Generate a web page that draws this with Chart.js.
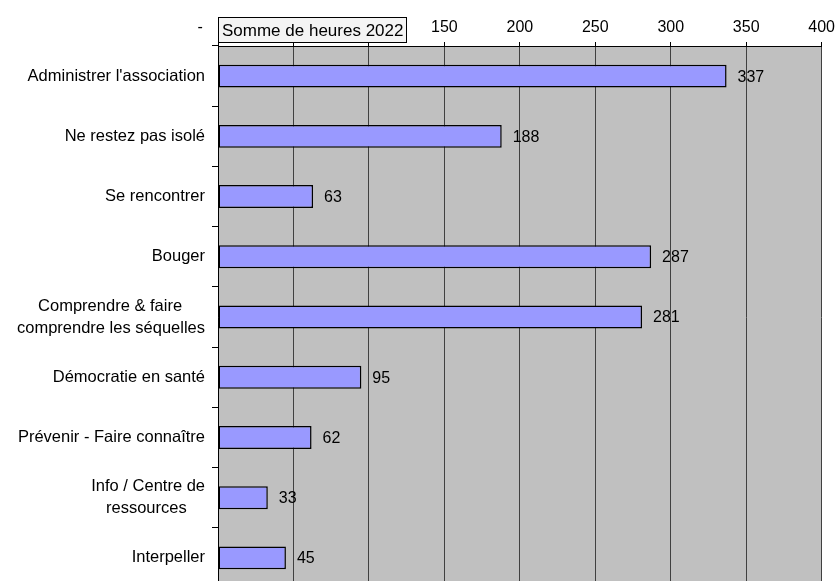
<!DOCTYPE html>
<html><head><meta charset="utf-8">
<script src="https://cdn.jsdelivr.net/npm/chart.js@4"></script>
<style>html,body{margin:0;padding:0;overflow:hidden;background:#fff}#wrap{width:840px;height:581px;overflow:hidden}</style>
</head><body><div id="wrap"><canvas id="c" width="840" height="606"></canvas></div>
<script>
const categories = ["Administrer l'association", "Ne restez pas isolé", "Se rencontrer", "Bouger", ["Comprendre & faire", "comprendre les séquelles"], "Démocratie en santé", "Prévenir - Faire connaître", ["Info / Centre de", "ressources"], "Interpeller"];
const heures2022 = [337, 188, 63, 287, 281, 95, 62, 33, 45];
const seriesName = "Somme de heures 2022";
const xTicks = [0, 50, 100, 150, 200, 250, 300, 350, 400];

const FONT = "'Liberation Sans', Arial, sans-serif";
const Y_FONT_SIZE = 16.5;

// center multi-line category labels inside a right-aligned block (pad with trailing spaces)
const measureCtx = document.createElement('canvas').getContext('2d');
measureCtx.font = Y_FONT_SIZE + "px " + FONT;
function centerLines(label) {
  if (!Array.isArray(label)) return label;
  const widths = label.map(l => measureCtx.measureText(l).width);
  const maxW = Math.max(...widths);
  const sp = measureCtx.measureText(' ').width;
  return label.map((l, i) => l + ' '.repeat(Math.round((maxW - widths[i]) / 2 / sp)));
}

const plotBg = {
  id: 'plotBg',
  beforeDraw(chart) {
    const {ctx, chartArea: a} = chart;
    ctx.save(); ctx.fillStyle = '#C0C0C0';
    ctx.fillRect(a.left, a.top, a.right - a.left, a.bottom - a.top);
    ctx.restore();
  }
};
const valueLabels = {
  id: 'valueLabels',
  afterDatasetsDraw(chart) {
    const {ctx} = chart;
    const meta = chart.getDatasetMeta(0);
    ctx.save();
    ctx.font = "16px " + FONT; ctx.fillStyle = '#000';
    ctx.textAlign = 'left'; ctx.textBaseline = 'middle';
    meta.data.forEach((el, i) => {
      ctx.fillText(String(chart.data.datasets[0].data[i]), el.x + 11, el.y + 1);
    });
    ctx.restore();
  }
};
const legendBox = {
  id: 'legendBox',
  afterDraw(chart) {
    const {ctx} = chart;
    ctx.save();
    ctx.fillStyle = '#F4F4F4'; ctx.strokeStyle = '#000'; ctx.lineWidth = 1;
    ctx.fillRect(218.5, 17.5, 188, 25); ctx.strokeRect(218.5, 17.5, 188, 25);
    ctx.font = "17px " + FONT; ctx.fillStyle = '#000';
    ctx.textAlign = 'left'; ctx.textBaseline = 'middle';
    ctx.fillText(chart.data.datasets[0].label, 222, 31);
    ctx.restore();
  }
};

new Chart(document.getElementById('c'), {
  type: 'bar',
  data: {
    labels: categories,
    datasets: [{
      label: seriesName,
      data: heures2022,
      backgroundColor: '#9999FF',
      borderColor: '#000000',
      borderWidth: 1.5,
      borderSkipped: false,
      barPercentage: 0.38,
      categoryPercentage: 1.0
    }]
  },
  options: {
    indexAxis: 'y',
    responsive: false,
    animation: false,
    devicePixelRatio: 1,
    layout: {padding: {left: 0, right: 8, top: 0, bottom: 3}},
    plugins: {legend: {display: false}, tooltip: {enabled: false}},
    scales: {
      x: {
        position: 'top',
        min: 0, max: 400,
        afterBuildTicks(s) { s.ticks = xTicks.map(v => ({value: v})); },
        afterFit(s) { s.height = 46; },
        ticks: {
          color: '#000', font: {size: 16, family: FONT}, padding: 5,
          maxRotation: 0,
          callback: v => v === 0 ? '-        ' : String(v)
        },
        grid: {color: '#404040', lineWidth: 1, tickLength: 4, tickColor: '#000'},
        border: {color: '#000', width: 1}
      },
      y: {
        afterFit(s) { s.width = 218; },
        offset: true,
        ticks: {
          color: '#000', font: {size: Y_FONT_SIZE, family: FONT, lineHeight: 1.33}, padding: 7,
          callback: function(v, i) { return centerLines(categories[i]); }
        },
        grid: {offset: true, drawOnChartArea: false, tickLength: 6, color: '#000'},
        border: {color: '#000', width: 1}
      }
    }
  },
  plugins: [plotBg, valueLabels, legendBox]
});
</script></body></html>
